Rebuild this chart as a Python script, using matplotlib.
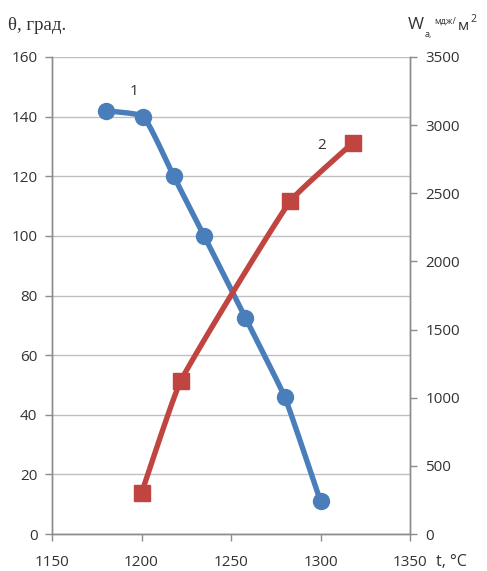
import numpy as np
import matplotlib
matplotlib.use("Agg")
import matplotlib.pyplot as plt

# Curve 1: angle θ (left axis) vs temperature
t1 = [1180, 1201, 1218, 1235, 1258, 1280, 1300]
theta = [142, 140, 120, 100, 72.5, 46, 11]

# Curve 2: W_a (right axis) vs temperature
t2 = [1200, 1222, 1283, 1318]
w_a = [300, 1125, 2440, 2870]

x_ticks = [1150, 1200, 1250, 1300, 1350]
left_ticks = [0, 20, 40, 60, 80, 100, 120, 140, 160]
right_ticks = [0, 500, 1000, 1500, 2000, 2500, 3000, 3500]

BLUE = "#4A7EBB"
RED = "#C0443F"
GRID = "#BFBFBF"
SPINE = "#8C8C8C"
TXT = "#333333"
TICKFONT = "Open Sans"


def smooth(xs, ys, sx, sy, k=0.13, n=40):
    """Light Bezier smoothing with tangent handles proportional to segment
    length, computed in scaled (screen-like) space."""
    p = np.column_stack([np.asarray(xs, float) * sx, np.asarray(ys, float) * sy])
    m = len(p)
    tang = np.zeros_like(p)
    for i in range(m):
        if i == 0:
            d = p[1] - p[0]
        elif i == m - 1:
            d = p[-1] - p[-2]
        else:
            d = p[i + 1] - p[i - 1]
        tang[i] = d / np.hypot(*d)
    s = np.linspace(0, 1, n)[:, None]
    out = []
    for i in range(m - 1):
        p1, p2 = p[i], p[i + 1]
        L = np.hypot(*(p2 - p1))
        c1 = p1 + tang[i] * L * k
        c2 = p2 - tang[i + 1] * L * k
        seg = ((1 - s) ** 3) * p1 + 3 * ((1 - s) ** 2) * s * c1 + 3 * (1 - s) * s ** 2 * c2 + s ** 3 * p2
        out.append(seg if i == 0 else seg[1:])
    out = np.vstack(out)
    return out[:, 0] / sx, out[:, 1] / sy


fig = plt.figure(figsize=(4.87, 5.71), dpi=100)
ax = fig.add_axes([52 / 487, 1 - 534 / 571, (410 - 52) / 487, (534 - 57) / 571])
ax2 = ax.twinx()

xmin, xmax = 1150, 1350
ax.set_xlim(xmin, xmax)
ax.set_ylim(0, 160)
ax2.set_ylim(0, 3500)

# pixels per data unit, used to smooth lines in screen proportions
sx = 358 / (xmax - xmin)
sy1 = 477 / 160
sy2 = 477 / 3500

ax.set_axisbelow(True)
ax.yaxis.grid(True, color=GRID, linewidth=1.0)
ax.set_xticks(x_ticks)
ax.set_yticks(left_ticks)
ax2.set_yticks(right_ticks)

for a in (ax, ax2):
    for side in ("left", "right", "bottom"):
        a.spines[side].set_color(SPINE)
        a.spines[side].set_linewidth(1.0)
    a.spines["top"].set_visible(False)

ax.tick_params(axis="both", direction="out", length=5, width=1, color=SPINE,
               labelcolor=TXT, labelsize=11)
ax.tick_params(axis="y", pad=5.5)
ax.tick_params(axis="x", pad=10)
ax2.tick_params(axis="y", direction="out", length=5, width=1, color=SPINE,
                labelcolor=TXT, labelsize=11, pad=6)
for lab in ax.get_xticklabels() + ax.get_yticklabels() + ax2.get_yticklabels():
    lab.set_fontfamily(TICKFONT)

# curve 1
bx, by = smooth(t1, theta, sx, sy1)
ax.plot(bx, by, color=BLUE, linewidth=3.9, solid_capstyle="round", zorder=3)
ax.plot(t1, theta, linestyle="none", marker="o", markersize=11.5,
        color=BLUE, zorder=4)

# curve 2
rx, ry = smooth(t2, w_a, sx, sy2)
ax2.plot(rx, ry, color=RED, linewidth=3.9, solid_capstyle="round", zorder=3)
ax2.plot(t2, w_a, linestyle="none", marker="s", markersize=11.5,
         color=RED, zorder=4)

# curve numbers
ax.text(1196, 148.5, "1", fontsize=11, color=TXT, family=TICKFONT, ha="center", va="center")
ax2.text(1300.5, 2850, "2", fontsize=11, color=TXT, family=TICKFONT, ha="center", va="center")

# axis titles
fig.text(8 / 487, 1 - 25 / 571, "θ, град.", fontsize=13.5, family="Liberation Serif",
         color=TXT, ha="left", va="center")
fig.text(408 / 487, 1 - 25 / 571, "W", fontsize=12.5, family=TICKFONT,
         color=TXT, ha="left", va="center")
fig.text(425 / 487, 1 - 34 / 571, "а,", fontsize=6.5, family=TICKFONT,
         color=TXT, ha="left", va="center")
fig.text(434 / 487, 1 - 21 / 571, "мдж/", fontsize=6.5, family=TICKFONT,
         color=TXT, ha="left", va="center")
fig.text(458 / 487, 1 - 26 / 571, "м", fontsize=11, family=TICKFONT,
         color=TXT, ha="left", va="center")
fig.text(470 / 487, 1 - 20 / 571, "2", fontsize=7.5, family=TICKFONT,
         color=TXT, ha="left", va="center")
fig.text(436 / 487, 1 - 562 / 571, "t, °C", fontsize=11.5, family=TICKFONT,
         color=TXT, ha="left", va="center")

fig.savefig("out.png", dpi=100)
